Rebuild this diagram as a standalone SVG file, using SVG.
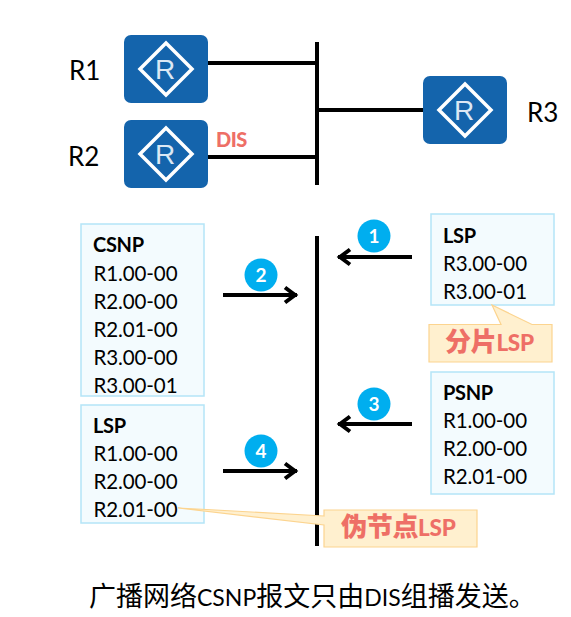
<svg xmlns="http://www.w3.org/2000/svg" width="571" height="617" viewBox="0 0 571 617">
<style>
text{font-family:"Lato","Noto Sans CJK SC",sans-serif;fill:#000}
.lbl{font-size:26px}
.t{font-size:20.500px;letter-spacing:-0.100px}
.b{font-size:20px;font-weight:700;letter-spacing:-0.300px}
.box{fill:#f3fbfe;stroke:#b4e5f7;stroke-width:1.5}
.call{fill:#fff0cf;stroke:#fcd48f;stroke-width:1.2}
.red{fill:#ee6f66;font-weight:900}
.cjk{font-size:26px;font-weight:900}
.rt{fill:#1464ac}
.dm{fill:none;stroke:#fff;stroke-width:3.500}
.rl{font-family:"Liberation Sans",sans-serif;font-size:28px;fill:#dce8f4}
.bus{stroke:#000;stroke-width:4;fill:none}
.num{fill:#00aeef}
.nt{font-size:19px;font-weight:700;fill:#fff;text-anchor:middle}
</style>
<defs>
<marker id="ah" markerUnits="userSpaceOnUse" markerWidth="20" markerHeight="20" refX="18" refY="10" orient="auto">
<path d="M6 2.500L16 10L6 17.500" fill="none" stroke="#000" stroke-width="4"/>
</marker>
</defs>
<g id="connectors">
<path class="bus" d="M317 42V185M208 63H317M204 157H317M317 110H423M317 236V546"/>
<path class="bus" marker-end="url(#ah)" d="M412 257H338"/>
<path class="bus" marker-end="url(#ah)" d="M223 295H297"/>
<path class="bus" marker-end="url(#ah)" d="M412 424H338"/>
<path class="bus" marker-end="url(#ah)" d="M223 471H297"/>
</g>
<g id="r1">
<rect class="rt" x="124" y="35" width="84" height="68" rx="7"/>
<path class="dm" d="M166 43L192 69L166 95L140 69Z"/>
<text class="rl" x="155" y="79">R</text>
<text class="lbl" x="69" y="80">R1</text>
</g>
<g id="r2">
<rect class="rt" x="124" y="120" width="84" height="68" rx="7"/>
<path class="dm" d="M166 128L192 154L166 180L140 154Z"/>
<text class="rl" x="155" y="164">R</text>
<text class="lbl" x="68" y="166">R2</text>
<text class="red" x="216" y="147" font-size="20" letter-spacing="-0.500">DIS</text>
</g>
<g id="r3">
<rect class="rt" x="423" y="76" width="84" height="68" rx="7"/>
<path class="dm" d="M465 84L491 110L465 136L439 110Z"/>
<text class="rl" x="454" y="120">R</text>
<text class="lbl" x="527" y="122">R3</text>
</g>
<g id="csnp">
<rect class="box" x="81" y="224" width="123" height="172"/>
<text class="b" x="93" y="252">CSNP</text>
<text class="t" x="93.500" y="281">R1.00-00</text>
<text class="t" x="93.500" y="309">R2.00-00</text>
<text class="t" x="93.500" y="337">R2.01-00</text>
<text class="t" x="93.500" y="365">R3.00-00</text>
<text class="t" x="93.500" y="393">R3.00-01</text>
</g>
<g id="lsp-left">
<rect class="box" x="81" y="405" width="123" height="118"/>
<text class="b" x="93" y="433">LSP</text>
<text class="t" x="93.500" y="461">R1.00-00</text>
<text class="t" x="93.500" y="489">R2.00-00</text>
<text class="t" x="93.500" y="517">R2.01-00</text>
</g>
<g id="lsp-right">
<rect class="box" x="431" y="214" width="123" height="91"/>
<text class="b" x="443" y="243">LSP</text>
<text class="t" x="443" y="271">R3.00-00</text>
<text class="t" x="443" y="299">R3.00-01</text>
</g>
<g id="psnp">
<rect class="box" x="431" y="372" width="123" height="122"/>
<text class="b" x="443" y="400">PSNP</text>
<text class="t" x="443" y="428">R1.00-00</text>
<text class="t" x="443" y="456">R2.00-00</text>
<text class="t" x="443" y="484">R2.01-00</text>
</g>
<g id="callout-frag">
<path class="call" d="M429 324.500H501L492 305L532 324.500H552V362H429Z"/>
<text class="red" x="445" y="351" font-size="22.500" letter-spacing="-0.300"><tspan class="cjk">分片</tspan>LSP</text>
</g>
<g id="callout-pseudo">
<path class="call" d="M324 516L178 508L324 525V547H477V510H324Z"/>
<text class="red" x="341" y="536" font-size="22.500" letter-spacing="-0.300"><tspan class="cjk">伪节点</tspan>LSP</text>
</g>
<g id="badge1"><circle class="num" cx="374" cy="236" r="16.500"/><text class="nt" x="374" y="243">1</text></g>
<g id="badge2"><circle class="num" cx="261" cy="275" r="16.500"/><text class="nt" x="261" y="282">2</text></g>
<g id="badge3"><circle class="num" cx="374" cy="404" r="16.500"/><text class="nt" x="374" y="411">3</text></g>
<g id="badge4"><circle class="num" cx="261" cy="451" r="16.500"/><text class="nt" x="261" y="458">4</text></g>
<text id="caption" x="89" y="606" font-size="27">广播网络<tspan font-size="23">CSNP</tspan>报文只由<tspan font-size="23">DIS</tspan>组播发送。</text>
</svg>
